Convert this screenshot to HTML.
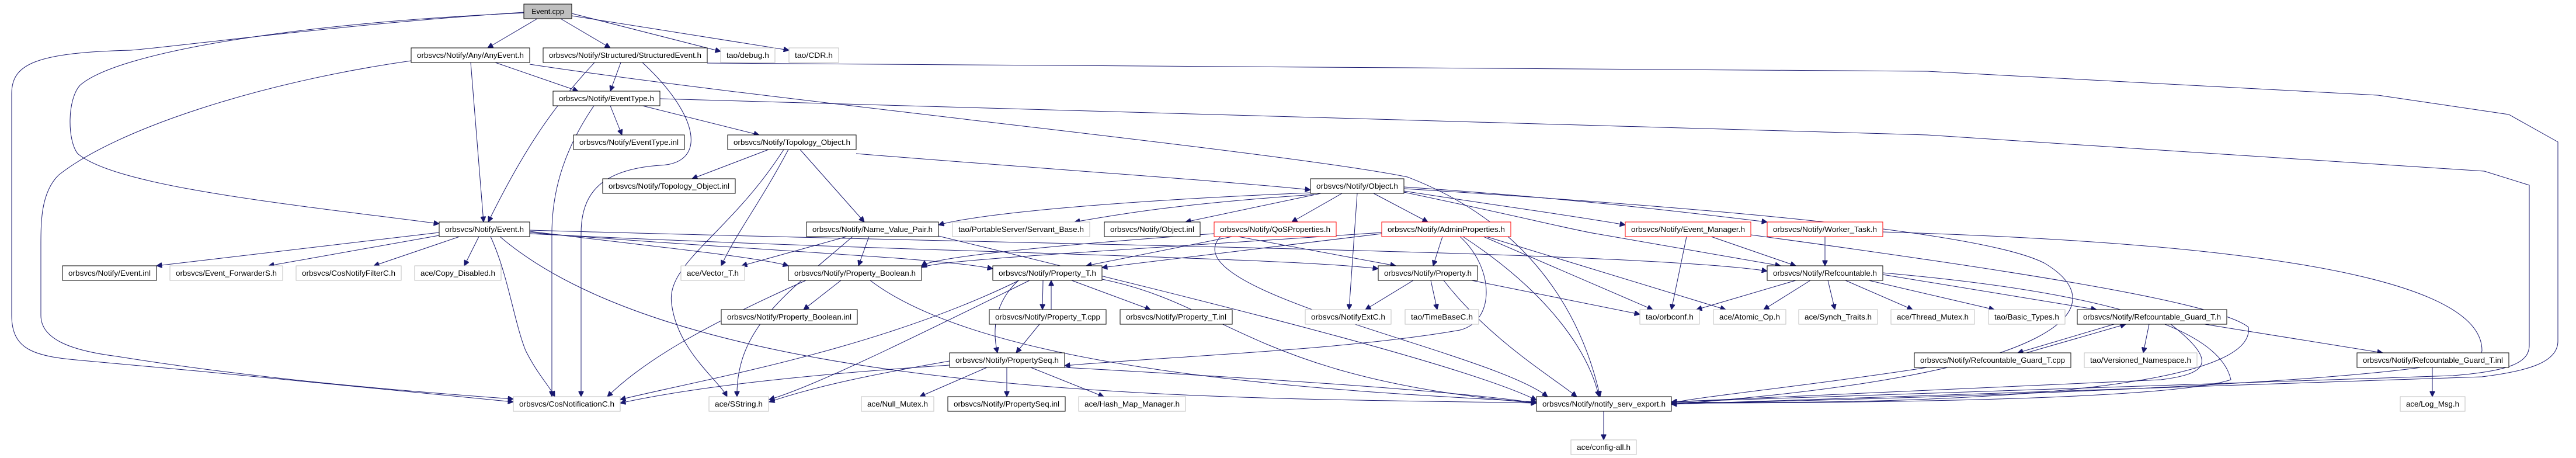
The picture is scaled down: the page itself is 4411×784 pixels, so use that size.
<!DOCTYPE html>
<html><head><meta charset="utf-8"><style>
html,body{margin:0;padding:0;background:#fff;}
svg{display:block;}
text{font-family:"Liberation Sans",sans-serif;font-size:12.5px;fill:#000;}
.e{fill:none;stroke:#191970;stroke-width:1;}
.n{fill:#fff;stroke:#000;stroke-width:1;}
.g{fill:#fff;stroke:#bfbfbf;stroke-width:1;}
.r{fill:#fff;stroke:#ff0000;stroke-width:1;}
</style></head><body>
<svg width="4411" height="784" viewBox="0 0 4411 784" xmlns="http://www.w3.org/2000/svg">
<defs><marker id="a" viewBox="0 0 10 10" refX="10" refY="5" markerWidth="10" markerHeight="9" orient="auto" markerUnits="userSpaceOnUse"><path d="M0,0 L10,5 L0,10 z" fill="#191970" stroke="#191970"/></marker></defs>
<g class="e" marker-end="url(#a)">
<path d="M920,32 L835,82"/>
<path d="M960,32 L1045,82"/>
<path d="M979,23 L1234,88"/>
<path d="M979,27 L1351,86"/>
<path d="M897,22 C500,40 200,90 137,146 C115,170 115,240 133,263 C200,320 500,350 752,383"/>
<path d="M897,21 C600,40 300,80 224,86 C60,90 20,110 20,160 L20,540 C20,600 60,610 140,617 C400,640 700,670 879,688"/>
<path d="M704,104 C450,140 200,220 100,300 C70,330 70,380 70,420 L70,540 C70,580 120,600 200,610 C450,650 700,670 879,683"/>
<path d="M806,107 L828,380"/>
<path d="M848,107 L990,156"/>
<path d="M907,110 C1300,170 2200,260 2410,303 C2586,370 2700,500 2740,679"/>
<path d="M1063,107 L1045,156"/>
<path d="M1018,107 C950,180 900,250 836,380"/>
<path d="M1100,107 C1200,200 1210,280 1130,283 C1030,290 995,330 995,400 L995,679"/>
<path d="M1211,108 L3300,122 L4072,163 L4296,196 L4380,243 L4380,584 C4380,620 4330,635 4250,645 L2862,692"/>
<path d="M1130,169 L3300,231 L4254,293 L4331,317 L4331,591 C4331,620 4300,635 4200,643 L2862,688"/>
<path d="M1045,181 L1065,231"/>
<path d="M1100,181 L1300,231"/>
<path d="M1017,181 C970,250 945,320 945,400 L945,679"/>
<path d="M1316,256 L1185,306"/>
<path d="M1466,263 C1800,290 2100,310 2244,325"/>
<path d="M1370,256 L1480,380"/>
<path d="M1350,256 C1300,350 1260,400 1235,455"/>
<path d="M1342,256 C1250,400 1140,450 1150,520 C1160,600 1230,650 1245,679"/>
<path d="M2244,330 C2000,340 1700,360 1607,385"/>
<path d="M2250,333 C2000,350 1900,370 1840,380"/>
<path d="M2262,331 L2030,380"/>
<path d="M2298,331 L2212,380"/>
<path d="M2352,331 L2445,380"/>
<path d="M2404,327 C2550,350 2700,370 2783,385"/>
<path d="M2404,320 C2700,340 2900,365 3026,380"/>
<path d="M2324,331 L2310,530"/>
<path d="M2404,329 C2600,370 2700,395 2733,400 L3049,455"/>
<path d="M2404,323 C3000,360 3400,400 3500,450 C3620,520 3560,640 2862,692"/>
<path d="M752,398 L268,455"/>
<path d="M752,403 L460,455"/>
<path d="M787,405 L640,455"/>
<path d="M820,405 L795,455"/>
<path d="M840,405 C870,470 880,550 900,600 C920,640 940,660 950,679"/>
<path d="M856,405 C1200,700 2200,680 2631,690"/>
<path d="M907,396 C1100,420 1300,440 1350,455"/>
<path d="M907,398 C1300,430 1600,440 1700,460"/>
<path d="M907,400 C1500,430 2200,440 2360,460"/>
<path d="M907,394 C1800,420 2800,430 3026,464"/>
<path d="M1450,405 L1270,455"/>
<path d="M1488,405 L1470,455"/>
<path d="M1460,405 C1350,500 1260,560 1262,679"/>
<path d="M1607,404 C2000,500 2500,620 2631,685"/>
<path d="M2079,400 C1800,420 1600,440 1578,455"/>
<path d="M2110,405 L1860,455"/>
<path d="M2120,405 L2390,455"/>
<path d="M2090,405 C2000,500 2550,600 2650,679"/>
<path d="M2470,405 L2454,455"/>
<path d="M2366,398 C1900,430 1600,445 1578,458"/>
<path d="M2366,400 L1887,458"/>
<path d="M2500,405 C2560,460 2560,550 2500,565 C2300,600 2000,610 1823,626"/>
<path d="M2540,405 L2830,530"/>
<path d="M2545,405 L2955,530"/>
<path d="M2505,405 C2650,500 2720,600 2738,679"/>
<path d="M2888,405 L2862,530"/>
<path d="M2930,405 L3075,455"/>
<path d="M2998,402 C3500,470 3800,520 3850,560 C3870,700 3000,690 2862,688"/>
<path d="M3125,405 L3125,455"/>
<path d="M3224,397 C4000,420 4250,500 4250,600 C4250,660 3000,690 2862,690"/>
<path d="M1440,480 L1376,530"/>
<path d="M1380,480 C1200,560 1100,620 1040,679"/>
<path d="M1490,480 C1700,640 2300,670 2631,688"/>
<path d="M1786,480 L1785,530"/>
<path d="M1800,530 L1800,480"/>
<path d="M1835,480 L1970,530"/>
<path d="M1744,480 C1700,520 1700,570 1708,604"/>
<path d="M1780,555 L1740,604"/>
<path d="M1763,480 C1600,560 1400,660 1317,684"/>
<path d="M1745,480 C1500,600 1200,650 1062,684"/>
<path d="M1887,478 C2100,520 2150,650 2631,690"/>
<path d="M2420,480 L2338,530"/>
<path d="M2450,480 L2461,530"/>
<path d="M2520,480 L2808,538"/>
<path d="M2472,480 C2550,580 2650,640 2700,679"/>
<path d="M1626,618 C1500,640 1400,660 1317,688"/>
<path d="M1690,629 L1575,679"/>
<path d="M1724,629 L1724,679"/>
<path d="M1765,629 L1890,679"/>
<path d="M1626,625 C1400,640 1200,660 1062,690"/>
<path d="M1823,629 C2200,650 2500,670 2631,690"/>
<path d="M3075,480 L2905,530"/>
<path d="M3100,480 L3020,530"/>
<path d="M3130,480 L3142,530"/>
<path d="M3160,480 L3275,530"/>
<path d="M3200,480 L3415,530"/>
<path d="M3224,470 L3590,530"/>
<path d="M3224,467 C3600,500 3800,560 3820,650 C3700,690 3000,690 2862,690"/>
<path d="M3620,555 L3455,604"/>
<path d="M3470,604 L3640,555"/>
<path d="M3680,555 L3670,604"/>
<path d="M3775,555 L4080,604"/>
<path d="M3717,555 C3800,620 3780,640 3700,650 L2862,688"/>
<path d="M3300,629 C3100,660 2900,680 2862,690"/>
<path d="M4165,629 L4165,679"/>
<path d="M2746,704 L2746,753"/>
</g>
<g>
<rect x="897" y="7" width="82" height="25" fill="#bfbfbf" stroke="#000"/><text x="938" y="24" text-anchor="middle">Event.cpp</text>
<rect class="n" x="704" y="82" width="203" height="25"/><text x="714" y="99" textLength="183" lengthAdjust="spacingAndGlyphs">orbsvcs/Notify/Any/AnyEvent.h</text>
<rect class="n" x="930" y="82" width="281" height="25"/><text x="940" y="99" textLength="261" lengthAdjust="spacingAndGlyphs">orbsvcs/Notify/Structured/StructuredEvent.h</text>
<rect class="g" x="1234" y="82" width="93" height="25"/><text x="1244" y="99" textLength="73" lengthAdjust="spacingAndGlyphs">tao/debug.h</text>
<rect class="g" x="1351" y="82" width="85" height="25"/><text x="1361" y="99" textLength="65" lengthAdjust="spacingAndGlyphs">tao/CDR.h</text>
<rect class="n" x="947" y="156" width="183" height="25"/><text x="957" y="173" textLength="163" lengthAdjust="spacingAndGlyphs">orbsvcs/Notify/EventType.h</text>
<rect class="n" x="982" y="231" width="190" height="25"/><text x="992" y="248" textLength="170" lengthAdjust="spacingAndGlyphs">orbsvcs/Notify/EventType.inl</text>
<rect class="n" x="1246" y="231" width="220" height="25"/><text x="1256" y="248" textLength="200" lengthAdjust="spacingAndGlyphs">orbsvcs/Notify/Topology_Object.h</text>
<rect class="n" x="1032" y="306" width="227" height="25"/><text x="1042" y="323" textLength="207" lengthAdjust="spacingAndGlyphs">orbsvcs/Notify/Topology_Object.inl</text>
<rect class="n" x="2244" y="306" width="160" height="25"/><text x="2254" y="323" textLength="140" lengthAdjust="spacingAndGlyphs">orbsvcs/Notify/Object.h</text>
<rect class="n" x="752" y="380" width="155" height="25"/><text x="762" y="397" textLength="135" lengthAdjust="spacingAndGlyphs">orbsvcs/Notify/Event.h</text>
<rect class="n" x="1381" y="380" width="226" height="25"/><text x="1391" y="397" textLength="206" lengthAdjust="spacingAndGlyphs">orbsvcs/Notify/Name_Value_Pair.h</text>
<rect class="g" x="1631" y="380" width="235" height="25"/><text x="1641" y="397" textLength="215" lengthAdjust="spacingAndGlyphs">tao/PortableServer/Servant_Base.h</text>
<rect class="n" x="1891" y="380" width="164" height="25"/><text x="1901" y="397" textLength="144" lengthAdjust="spacingAndGlyphs">orbsvcs/Notify/Object.inl</text>
<rect class="r" x="2079" y="380" width="209" height="25"/><text x="2089" y="397" textLength="189" lengthAdjust="spacingAndGlyphs">orbsvcs/Notify/QoSProperties.h</text>
<rect class="r" x="2366" y="380" width="221" height="25"/><text x="2376" y="397" textLength="201" lengthAdjust="spacingAndGlyphs">orbsvcs/Notify/AdminProperties.h</text>
<rect class="r" x="2783" y="380" width="215" height="25"/><text x="2793" y="397" textLength="195" lengthAdjust="spacingAndGlyphs">orbsvcs/Notify/Event_Manager.h</text>
<rect class="r" x="3026" y="380" width="198" height="25"/><text x="3036" y="397" textLength="178" lengthAdjust="spacingAndGlyphs">orbsvcs/Notify/Worker_Task.h</text>
<rect class="n" x="107" y="455" width="161" height="25"/><text x="117" y="472" textLength="141" lengthAdjust="spacingAndGlyphs">orbsvcs/Notify/Event.inl</text>
<rect class="g" x="291" y="455" width="193" height="25"/><text x="301" y="472" textLength="173" lengthAdjust="spacingAndGlyphs">orbsvcs/Event_ForwarderS.h</text>
<rect class="g" x="507" y="455" width="180" height="25"/><text x="517" y="472" textLength="160" lengthAdjust="spacingAndGlyphs">orbsvcs/CosNotifyFilterC.h</text>
<rect class="g" x="710" y="455" width="148" height="25"/><text x="720" y="472" textLength="128" lengthAdjust="spacingAndGlyphs">ace/Copy_Disabled.h</text>
<rect class="g" x="1166" y="455" width="109" height="25"/><text x="1176" y="472" textLength="89" lengthAdjust="spacingAndGlyphs">ace/Vector_T.h</text>
<rect class="n" x="1350" y="455" width="228" height="25"/><text x="1360" y="472" textLength="208" lengthAdjust="spacingAndGlyphs">orbsvcs/Notify/Property_Boolean.h</text>
<rect class="n" x="1700" y="455" width="187" height="25"/><text x="1710" y="472" textLength="167" lengthAdjust="spacingAndGlyphs">orbsvcs/Notify/Property_T.h</text>
<rect class="n" x="2360" y="455" width="170" height="25"/><text x="2370" y="472" textLength="150" lengthAdjust="spacingAndGlyphs">orbsvcs/Notify/Property.h</text>
<rect class="n" x="3026" y="455" width="198" height="25"/><text x="3036" y="472" textLength="178" lengthAdjust="spacingAndGlyphs">orbsvcs/Notify/Refcountable.h</text>
<rect class="n" x="1235" y="530" width="233" height="25"/><text x="1245" y="547" textLength="213" lengthAdjust="spacingAndGlyphs">orbsvcs/Notify/Property_Boolean.inl</text>
<rect class="n" x="1694" y="530" width="200" height="25"/><text x="1704" y="547" textLength="180" lengthAdjust="spacingAndGlyphs">orbsvcs/Notify/Property_T.cpp</text>
<rect class="n" x="1918" y="530" width="192" height="25"/><text x="1928" y="547" textLength="172" lengthAdjust="spacingAndGlyphs">orbsvcs/Notify/Property_T.inl</text>
<rect class="g" x="2235" y="530" width="147" height="25"/><text x="2245" y="547" textLength="127" lengthAdjust="spacingAndGlyphs">orbsvcs/NotifyExtC.h</text>
<rect class="g" x="2406" y="530" width="126" height="25"/><text x="2416" y="547" textLength="106" lengthAdjust="spacingAndGlyphs">tao/TimeBaseC.h</text>
<rect class="g" x="2808" y="530" width="102" height="25"/><text x="2818" y="547" textLength="82" lengthAdjust="spacingAndGlyphs">tao/orbconf.h</text>
<rect class="g" x="2934" y="530" width="124" height="25"/><text x="2944" y="547" textLength="104" lengthAdjust="spacingAndGlyphs">ace/Atomic_Op.h</text>
<rect class="g" x="3080" y="530" width="135" height="25"/><text x="3090" y="547" textLength="115" lengthAdjust="spacingAndGlyphs">ace/Synch_Traits.h</text>
<rect class="g" x="3238" y="530" width="143" height="25"/><text x="3248" y="547" textLength="123" lengthAdjust="spacingAndGlyphs">ace/Thread_Mutex.h</text>
<rect class="g" x="3405" y="530" width="131" height="25"/><text x="3415" y="547" textLength="111" lengthAdjust="spacingAndGlyphs">tao/Basic_Types.h</text>
<rect class="n" x="3557" y="530" width="256" height="25"/><text x="3567" y="547" textLength="236" lengthAdjust="spacingAndGlyphs">orbsvcs/Notify/Refcountable_Guard_T.h</text>
<rect class="n" x="1626" y="604" width="197" height="25"/><text x="1636" y="621" textLength="177" lengthAdjust="spacingAndGlyphs">orbsvcs/Notify/PropertySeq.h</text>
<rect class="n" x="3278" y="604" width="268" height="25"/><text x="3288" y="621" textLength="248" lengthAdjust="spacingAndGlyphs">orbsvcs/Notify/Refcountable_Guard_T.cpp</text>
<rect class="g" x="3569" y="604" width="193" height="25"/><text x="3579" y="621" textLength="173" lengthAdjust="spacingAndGlyphs">tao/Versioned_Namespace.h</text>
<rect class="n" x="4036" y="604" width="260" height="25"/><text x="4046" y="621" textLength="240" lengthAdjust="spacingAndGlyphs">orbsvcs/Notify/Refcountable_Guard_T.inl</text>
<rect class="g" x="879" y="679" width="183" height="25"/><text x="889" y="696" textLength="163" lengthAdjust="spacingAndGlyphs">orbsvcs/CosNotificationC.h</text>
<rect class="g" x="1214" y="679" width="102" height="25"/><text x="1224" y="696" textLength="82" lengthAdjust="spacingAndGlyphs">ace/SString.h</text>
<rect class="g" x="1475" y="679" width="124" height="25"/><text x="1485" y="696" textLength="104" lengthAdjust="spacingAndGlyphs">ace/Null_Mutex.h</text>
<rect class="n" x="1623" y="679" width="201" height="25"/><text x="1633" y="696" textLength="181" lengthAdjust="spacingAndGlyphs">orbsvcs/Notify/PropertySeq.inl</text>
<rect class="g" x="1847" y="679" width="183" height="25"/><text x="1857" y="696" textLength="163" lengthAdjust="spacingAndGlyphs">ace/Hash_Map_Manager.h</text>
<rect class="n" x="2631" y="679" width="231" height="25"/><text x="2641" y="696" textLength="211" lengthAdjust="spacingAndGlyphs">orbsvcs/Notify/notify_serv_export.h</text>
<rect class="g" x="4110" y="679" width="111" height="25"/><text x="4120" y="696" textLength="91" lengthAdjust="spacingAndGlyphs">ace/Log_Msg.h</text>
<rect class="g" x="2690" y="753" width="112" height="25"/><text x="2700" y="770" textLength="92" lengthAdjust="spacingAndGlyphs">ace/config-all.h</text>
</g>
</svg>
</body></html>
